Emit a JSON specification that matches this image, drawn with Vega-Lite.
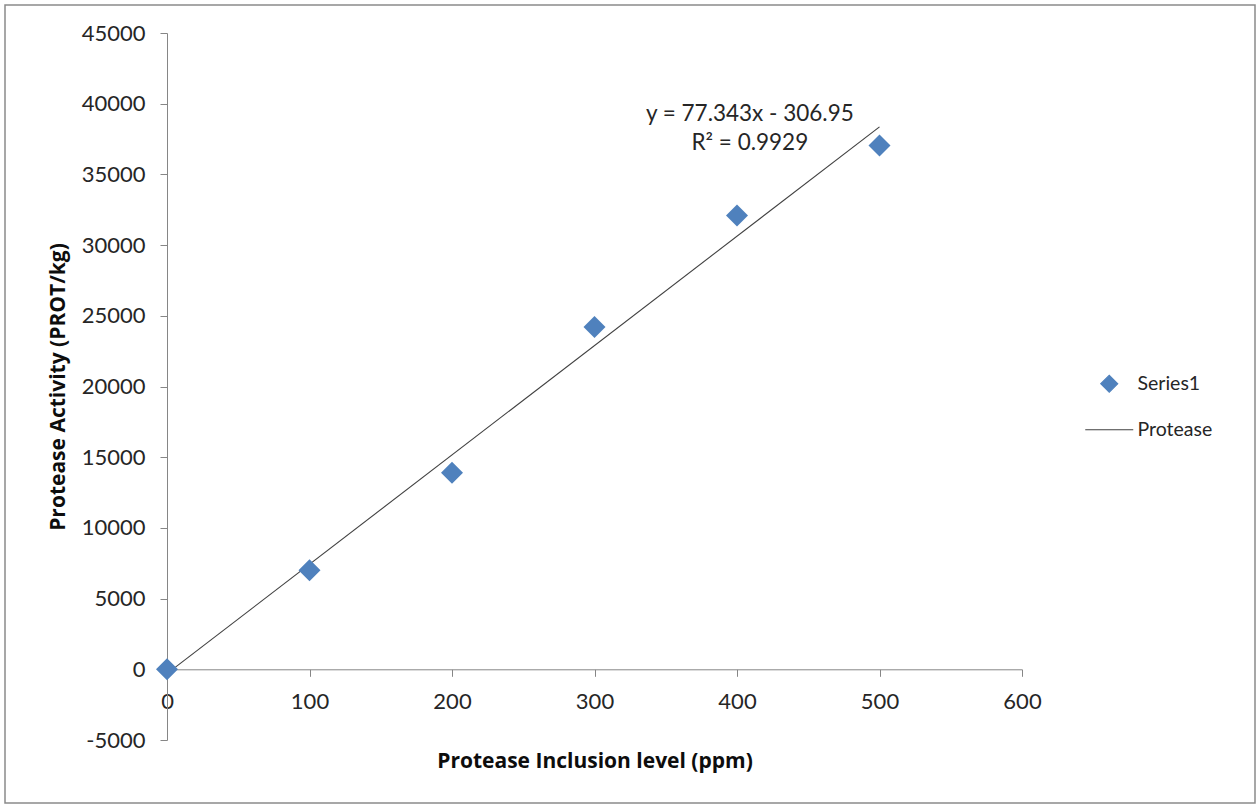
{
  "$schema": "https://vega.github.io/schema/vega-lite/v6.json",
  "width": 1250,
  "height": 798,
  "autosize": "none",
  "padding": {"left": 5, "top": 5, "right": 4, "bottom": 3},
  "background": "white",
  "config": {
    "font": "Lato",
    "view": {"stroke": "#8a8a8a", "strokeWidth": 1.5},
    "axis": {
      "grid": false,
      "domainColor": "#868686",
      "domainWidth": 1,
      "tickColor": "#868686",
      "tickSize": 7,
      "labelFont": "Lato",
      "labelFontSize": 22,
      "labelColor": "#262626",
      "labelFlush": false,
      "labelOverlap": false,
      "titleFont": "Open Sans",
      "titleFontSize": 21,
      "titleFontWeight": "bold",
      "titleColor": "#0d0d0d"
    }
  },
  "datasets": {
    "activity": [
      {"level": 0, "activity": 0, "series": "Series1"},
      {"level": 100, "activity": 7000, "series": "Series1"},
      {"level": 200, "activity": 13900, "series": "Series1"},
      {"level": 300, "activity": 24200, "series": "Series1"},
      {"level": 400, "activity": 32100, "series": "Series1"},
      {"level": 500, "activity": 37050, "series": "Series1"}
    ],
    "trend": [
      {"level": 0, "activity": -306.95, "series": "Protease"},
      {"level": 500, "activity": 38364.55, "series": "Protease"}
    ],
    "equation": [
      {"level": 409, "activity": 39300, "label": "y = 77.343x - 306.95"},
      {"level": 409, "activity": 37250, "label": "R² = 0.9929"}
    ]
  },
  "layer": [
    {
      "data": {"name": "trend"},
      "mark": {"type": "line", "strokeWidth": 1.1},
      "encoding": {
        "x": {
          "field": "level",
          "type": "quantitative",
          "scale": {"domain": [0, 600], "range": [162, 1017], "nice": false, "zero": false},
          "axis": {
            "title": "Protease Inclusion level (ppm)",
            "values": [0, 100, 200, 300, 400, 500, 600],
            "offset": -133.7,
            "labelPadding": 15,
            "titlePadding": 38
          }
        },
        "y": {
          "field": "activity",
          "type": "quantitative",
          "scale": {"domain": [-5000, 45000], "range": [735, 28], "nice": false, "zero": false},
          "axis": {
            "title": "Protease Activity (PROT/kg)",
            "values": [-5000, 0, 5000, 10000, 15000, 20000, 25000, 30000, 35000, 40000, 45000],
            "labelExpr": "datum.value + ''",
            "offset": -162,
            "labelPadding": 15,
            "titlePadding": 13
          }
        },
        "color": {
          "field": "series",
          "type": "nominal",
          "scale": {"domain": ["Series1", "Protease"], "range": ["#4f81bd", "#404040"]},
          "legend": {
            "title": null,
            "orient": "none",
            "legendX": 1094.5,
            "legendY": 369,
            "labelFont": "Lato",
            "labelFontSize": 19.5,
            "labelColor": "#262626",
            "labelOffset": 18.5,
            "rowPadding": 24,
            "symbolSize": 290,
            "encode": {
              "symbols": {
                "update": {
                  "shape": {"signal": "datum.value === 'Protease' ? 'stroke' : 'diamond'"},
                  "size": {"signal": "datum.value === 'Protease' ? 2304 : 290"},
                  "stroke": {"signal": "datum.value === 'Protease' ? '#404040' : '#4f81bd'"},
                  "strokeWidth": {"value": 1.1},
                  "fill": {"signal": "datum.value === 'Protease' ? 'transparent' : '#4f81bd'"},
                  "opacity": {"value": 1}
                }
              }
            }
          }
        }
      }
    },
    {
      "data": {"name": "activity"},
      "mark": {"type": "point", "filled": true, "opacity": 1, "size": 484, "shape": "diamond"},
      "encoding": {
        "x": {"field": "level", "type": "quantitative"},
        "y": {"field": "activity", "type": "quantitative"},
        "color": {"field": "series", "type": "nominal"}
      }
    },
    {
      "data": {"name": "equation"},
      "mark": {"type": "text", "font": "Lato", "fontSize": 22.5, "color": "#262626", "align": "center", "baseline": "middle"},
      "encoding": {
        "x": {"field": "level", "type": "quantitative"},
        "y": {"field": "activity", "type": "quantitative"},
        "text": {"field": "label"}
      }
    }
  ]
}
